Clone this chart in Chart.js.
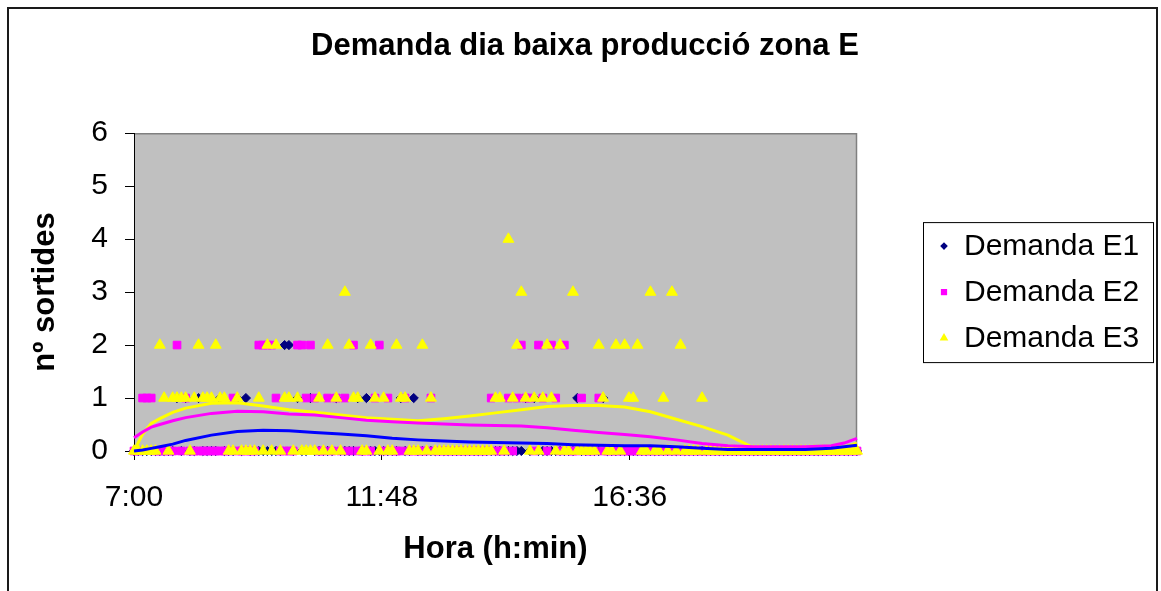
<!DOCTYPE html>
<html>
<head>
<meta charset="utf-8">
<script src="https://cdn.jsdelivr.net/npm/chart.js@4.4.0/dist/chart.umd.min.js"></script>
<style>
  html, body { margin: 0; padding: 0; background: #fff; }
</style>
</head>
<body>
<canvas id="chart" width="1161" height="591"></canvas>
<script>
// --- data ---
const chartTitle = "Demanda dia baixa producció zona E";
const xTitle = "Hora (h:min)";
const yTitle = "nº sortides";
const seriesNames = ["Demanda E1", "Demanda E2", "Demanda E3"];

const startTime = "7:00";
const endTime = "21:00";
const sampleStepMin = 5;              // one reading every 5 minutes
const xTickLabels = ["7:00", "11:48", "16:36"];
const yTickLabels = [0, 1, 2, 3, 4, 5, 6];

// one row = one hour (12 readings), last value = 21:00
const demandaE1 = [
    0,0,0,0,0,0,0,0,0,0,1,0,
    1,0,0,1,0,0,0,0,1,0,0,0,
    1,0,1,0,0,0,0,0,0,0,0,2,
    2,0,1,0,0,1,0,0,0,0,0,1,
    0,0,0,0,1,0,1,0,0,0,0,0,
    0,0,1,0,0,1,0,0,0,0,0,0,
    0,0,0,0,0,0,0,0,0,0,0,0,
    0,0,0,0,0,0,0,1,0,1,0,0,
    0,0,0,0,0,0,0,1,0,0,0,0,
    0,1,0,0,0,0,0,0,0,0,0,0,
    0,0,0,0,0,0,0,0,0,0,0,0,
    0,0,0,0,0,0,0,0,0,0,0,0,
    0,0,0,0,0,0,0,0,0,0,0,0,
    0,0,0,0,0,0,0,0,0,0,0,0,
    0
];
const demandaE2 = [
    0,0,1,1,1,0,0,0,0,0,2,0,
    1,0,0,0,0,0,0,0,0,0,0,1,
    0,0,0,0,0,2,2,2,2,1,0,0,
    0,0,2,2,1,2,1,0,0,1,0,1,
    0,1,0,2,0,0,0,0,1,2,0,1,
    0,0,0,1,0,0,0,0,0,1,0,0,
    0,0,0,0,0,0,0,0,0,0,0,1,
    0,0,0,1,0,1,2,1,1,0,2,1,
    0,2,1,0,2,0,0,0,1,0,0,0,
    1,0,0,0,0,0,0,0,0,0,0,0,
    0,0,0,0,0,0,0,0,0,0,0,0,
    0,0,0,0,0,0,0,0,0,0,0,0,
    0,0,0,0,0,0,0,0,0,0,0,0,
    0,0,0,0,0,0,0,0,0,0,0,0,
    0
];
const demandaE3 = [
    0,0,0,0,0,0,2,1,0,1,1,1,
    1,0,1,2,1,1,1,2,1,1,0,0,
    1,0,0,0,0,1,0,2,0,2,0,1,
    1,0,1,0,0,0,0,1,0,2,0,1,
    0,3,2,1,1,0,0,2,1,0,1,0,
    0,2,1,1,0,0,0,2,0,1,0,0,
    0,0,0,0,0,0,0,0,0,0,0,0,
    1,1,0,4,1,2,3,1,0,1,0,1,
    2,1,0,2,0,0,3,0,0,0,0,0,
    2,1,0,0,2,0,2,1,1,2,0,0,
    3,0,0,1,0,3,0,2,0,0,0,0,
    1,0,0,0,0,0,0,0,0,0,0,0,
    0,0,0,0,0,0,0,0,0,0,0,0,
    0,0,0,0,0,0,0,0,0,0,0,0,
    0
];

// trend lines (moving average curves), read at these times
const trendTimes = ["7:00","7:10","7:20","7:30","7:45","8:00","8:30","9:00","9:30","10:00",
    "10:30","11:00","11:30","12:00","12:30","13:00","13:30","14:00","14:30","15:00",
    "15:30","16:00","16:30","17:00","17:30","18:00","18:30","19:00","19:30","20:00",
    "20:30","20:45","21:00"];
const trendE1 = [0.00,0.02,0.05,0.08,0.13,0.20,0.30,0.37,0.39,0.38,
    0.35,0.32,0.29,0.24,0.21,0.19,0.17,0.16,0.15,0.14,
    0.12,0.11,0.10,0.10,0.08,0.05,0.03,0.03,0.03,0.03,
    0.05,0.08,0.11];
const trendE2 = [0.25,0.36,0.45,0.50,0.57,0.63,0.71,0.75,0.74,0.70,
    0.68,0.63,0.58,0.55,0.53,0.51,0.49,0.48,0.47,0.44,
    0.39,0.35,0.31,0.27,0.21,0.14,0.10,0.08,0.08,0.08,
    0.10,0.15,0.24];
const trendE3 = [0.00,0.32,0.52,0.61,0.73,0.81,0.90,0.91,0.85,0.78,
    0.73,0.68,0.63,0.60,0.57,0.61,0.66,0.72,0.78,0.84,
    0.86,0.86,0.83,0.74,0.60,0.46,0.30,0.06,0.00,0.00,
    0.02,0.07,0.15];

// --- helpers ---
const FONT = "'Liberation Sans', Arial, sans-serif";
const toMin = s => { const [h, m] = s.split(":").map(Number); return h * 60 + m; };
const t0 = toMin(startTime);
const toOffset = s => toMin(s) - t0;               // x = minutes after 7:00
const fmtClock = v => {
    const m = t0 + Math.round(v);
    return Math.floor(m / 60) + ":" + String(m % 60).padStart(2, "0");
};
const samplePoints = arr => arr.map((y, i) => ({ x: i * sampleStepMin, y }));
const trendPoints = arr => arr.map((y, i) => ({ x: toOffset(trendTimes[i]), y }));

const markers = [
    { color: "#000080", style: "rectRot", radius: 4.6, legendRadius: 3.8 },
    { color: "#ff00ff", style: "rect", radius: 5.4, legendRadius: 4.4 },
    { color: "#ffff00", style: "triangle", radius: 6.3, legendRadius: 5 },
];

// page frame + grey plot area
const backdrop = {
    id: "backdrop",
    beforeDraw(chart) {
        const { ctx, chartArea: a, width, height } = chart;
        ctx.save();
        ctx.fillStyle = "#fff";
        ctx.fillRect(0, 0, width, height);
        ctx.strokeStyle = "#1a1a1a";
        ctx.lineWidth = 2;
        ctx.strokeRect(8, 8, 1149, 620);
        ctx.fillStyle = "#c0c0c0";
        ctx.fillRect(a.left, a.top, a.right - a.left, a.bottom - a.top);
        ctx.strokeStyle = "#808080";
        ctx.lineWidth = 1.5;
        ctx.beginPath();
        ctx.moveTo(a.left, a.top + 0.5);
        ctx.lineTo(a.right - 0.5, a.top + 0.5);
        ctx.lineTo(a.right - 0.5, a.bottom);
        ctx.stroke();
        ctx.restore();
    },
};

// boxed legend on the right (markers only, like the original)
const boxLegend = {
    id: "boxLegend",
    beforeInit(chart) {
        const box = {
            position: "right",
            weight: 0,
            fullSize: false,
            options: {},
            update(maxWidth, maxHeight) {
                this.width = 304;
                this.height = maxHeight;
            },
            isHorizontal() { return false; },
            draw() {
                const ctx = chart.ctx;
                const a = chart.chartArea;
                const cy = (a.top + a.bottom) / 2;
                const bx = this.left + 66, bw = 230, bh = 140;
                ctx.save();
                ctx.fillStyle = "#fff";
                ctx.fillRect(bx, cy - bh / 2, bw, bh);
                ctx.strokeStyle = "#000";
                ctx.lineWidth = 1;
                ctx.strokeRect(bx + 0.5, cy - bh / 2 + 0.5, bw, bh);
                ctx.font = "30px " + FONT;
                ctx.textBaseline = "middle";
                ctx.textAlign = "left";
                seriesNames.forEach((name, i) => {
                    const y = cy + (i - 1) * 46;
                    const mk = markers[i];
                    ctx.fillStyle = mk.color;
                    Chart.helpers.drawPoint(ctx, {
                        pointStyle: mk.style, radius: mk.legendRadius,
                        borderWidth: 0, rotation: 0,
                    }, bx + 21, y);
                    ctx.fillStyle = "#000";
                    ctx.fillText(name, bx + 41, y + 1);
                });
                ctx.restore();
            },
        };
        Chart.layouts.addBox(chart, box);
    },
};

const scatterSet = (i, arr) => ({
    label: seriesNames[i],
    data: samplePoints(arr),
    pointStyle: markers[i].style,
    pointRadius: markers[i].radius,
    pointBackgroundColor: markers[i].color,
    pointBorderColor: markers[i].color,
    pointBorderWidth: 1,
    showLine: false,
    clip: false,          // zero-row markers hang over the axis, as in the original
});
const trendSet = (arr, color) => ({
    data: trendPoints(arr),
    showLine: true,
    borderColor: color,
    borderWidth: 3,
    pointRadius: 0,
    tension: 0,
    clip: 3,
});

// first dataset is drawn on top
new Chart(document.getElementById("chart"), {
    type: "scatter",
    data: {
        datasets: [
            trendSet(trendE1, "#0000ff"),
            trendSet(trendE2, "#ff00ff"),
            trendSet(trendE3, "#ffff00"),
            scatterSet(2, demandaE3),
            scatterSet(1, demandaE2),
            scatterSet(0, demandaE1),
        ],
    },
    options: {
        responsive: false,
        animation: false,
        events: [],
        layout: { padding: { left: 9, right: 0, top: 8, bottom: 0 } },
        plugins: {
            legend: { display: false },
            tooltip: { enabled: false },
            title: {
                display: true,
                text: chartTitle,
                color: "#000",
                font: { family: FONT, size: 31, weight: "bold" },
                padding: { top: 20, bottom: 68 },
            },
        },
        scales: {
            x: {
                type: "linear",
                min: 0,
                max: toOffset(endTime),
                afterBuildTicks: s => { s.ticks = xTickLabels.map(l => ({ value: toOffset(l) })); },
                afterFit: s => { s.height = 140; },
                ticks: {
                    autoSkip: false, maxRotation: 0, padding: 20, color: "#000",
                    font: { family: FONT, size: 30 },
                    callback: v => fmtClock(v),
                },
                grid: { drawOnChartArea: false, drawTicks: true, tickLength: 9, tickColor: "#000" },
                border: { display: true, color: "#000", width: 1 },
                title: {
                    display: true, text: xTitle, color: "#000",
                    font: { family: FONT, size: 31, weight: "bold" },
                    padding: { top: 0, bottom: 23 },
                },
            },
            y: {
                type: "linear",
                min: yTickLabels[0],
                max: yTickLabels[yTickLabels.length - 1],
                afterFit: s => { s.width = 125; },
                ticks: {
                    stepSize: 1, padding: 17, color: "#000",
                    font: { family: FONT, size: 30 },
                },
                grid: { drawOnChartArea: false, drawTicks: true, tickLength: 9, tickColor: "#000" },
                border: { display: true, color: "#000", width: 1 },
                title: {
                    display: true, text: yTitle, color: "#000",
                    font: { family: FONT, size: 31, weight: "bold" },
                    padding: { top: 18, bottom: 0 },
                },
            },
        },
    },
    plugins: [backdrop, boxLegend],
});
</script>
</body>
</html>
